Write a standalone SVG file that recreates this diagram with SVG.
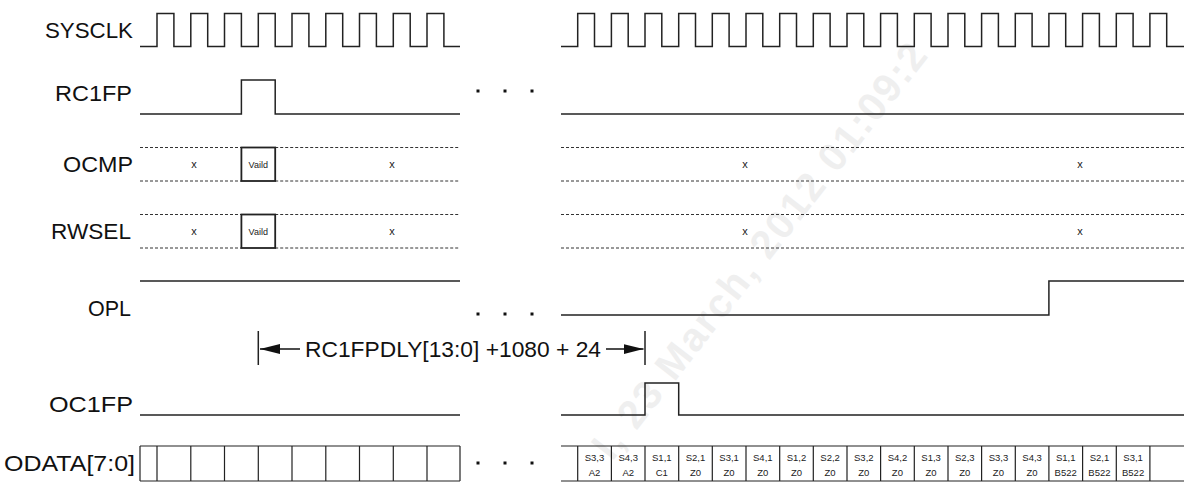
<svg xmlns="http://www.w3.org/2000/svg" width="1192" height="483" viewBox="0 0 1192 483">
<style>
.wm{font-family:"Liberation Sans",Arial,sans-serif;font-size:40px;font-weight:bold;fill:#efefef;letter-spacing:2px}
.lbl{font-family:"Liberation Sans",Arial,sans-serif;font-size:22px;fill:#111;text-anchor:end}
.sig{fill:none;stroke:#222;stroke-width:1.5}
.dash{fill:none;stroke:#333;stroke-width:1;stroke-dasharray:3 2}
.box{fill:none;stroke:#222;stroke-width:1.8}
.x{font-family:"Liberation Sans",Arial,sans-serif;font-size:11px;fill:#222;text-anchor:middle}
.v{font-family:"Liberation Sans",Arial,sans-serif;font-size:9px;fill:#222;text-anchor:middle}
.c{font-family:"Liberation Sans",Arial,sans-serif;font-size:9.5px;fill:#222;text-anchor:middle}
.dot{fill:#111}
.dim{font-family:"Liberation Sans",Arial,sans-serif;font-size:22px;fill:#111}
.cell{fill:none;stroke:#222;stroke-width:1.2}
</style>
<defs>
<marker id="ah" viewBox="0 0 20 10" refX="20" refY="5" markerWidth="20" markerHeight="10" markerUnits="userSpaceOnUse" orient="auto-start-reverse">
<path d="M0,0 L20,5 L0,10 Z" fill="#111"/>
</marker>
</defs>
<rect width="1192" height="483" fill="#fff"/>
<text class="wm" transform="translate(612,462) rotate(-52)">l, 23 March, 2012 01:09:2</text>

<g id="SYSCLK">
<text class="lbl" x="133" y="38" textLength="88" lengthAdjust="spacingAndGlyphs">SYSCLK</text>
<path class="sig" d="M140,46.5 H157 V13.5 H173.9 V46.5 H190.8 V13.5 H207.7 V46.5 H224.5 V13.5 H241.4 V46.5 H258.3 V13.5 H275.2 V46.5 H292 V13.5 H308.9 V46.5 H325.8 V13.5 H342.7 V46.5 H359.5 V13.5 H376.4 V46.5 H393.3 V13.5 H410.2 V46.5 H427 V13.5 H443.9 V46.5 H460"/>
<path class="sig" d="M561,46.5 H577.7 V13.5 H594.5 V46.5 H611.4 V13.5 H628.2 V46.5 H645 V13.5 H661.8 V46.5 H678.7 V13.5 H695.5 V46.5 H712.3 V13.5 H729.1 V46.5 H746 V13.5 H762.8 V46.5 H779.7 V13.5 H796.5 V46.5 H813.3 V13.5 H830.1 V46.5 H847 V13.5 H863.8 V46.5 H880.6 V13.5 H897.4 V46.5 H914.3 V13.5 H931.1 V46.5 H948 V13.5 H964.8 V46.5 H981.6 V13.5 H998.4 V46.5 H1015.3 V13.5 H1032.1 V46.5 H1048.9 V13.5 H1065.7 V46.5 H1082.6 V13.5 H1099.4 V46.5 H1116.3 V13.5 H1133.1 V46.5 H1149.9 V13.5 H1166.7 V46.5 H1184"/>
</g>

<g id="RC1FP">
<text class="lbl" x="132" y="101" textLength="77" lengthAdjust="spacingAndGlyphs">RC1FP</text>
<path class="sig" d="M140,114 H241.4 V80 H275.2 V114 H460"/>
<path class="sig" d="M561,114 H1184"/>
<rect class="dot" x="476.5" y="89.5" width="3" height="3"/>
<rect class="dot" x="503.5" y="89.5" width="3" height="3"/>
<rect class="dot" x="530.5" y="89.5" width="3" height="3"/>
</g>

<g id="OCMP">
<text class="lbl" x="133" y="172" textLength="70" lengthAdjust="spacingAndGlyphs">OCMP</text>
<path class="dash" d="M140,147.5 H241.4 M275.2,147.5 H460 M140,181 H241.4 M275.2,181 H460 M561,147.5 H1184 M561,181 H1184"/>
<rect class="box" x="241.4" y="147.5" width="33.8" height="33.5"/>
<text class="x" x="194" y="168">x</text>
<text class="v" x="258.3" y="167.5">Vaild</text>
<text class="x" x="392" y="168">x</text>
<text class="x" x="745" y="168">x</text>
<text class="x" x="1080" y="168">x</text>
</g>

<g id="RWSEL">
<text class="lbl" x="131" y="239" textLength="80" lengthAdjust="spacingAndGlyphs">RWSEL</text>
<path class="dash" d="M140,214.5 H241.4 M275.2,214.5 H460 M140,248 H241.4 M275.2,248 H460 M561,214.5 H1184 M561,248 H1184"/>
<rect class="box" x="241.4" y="214.5" width="33.8" height="33.5"/>
<text class="x" x="194" y="235">x</text>
<text class="v" x="258.3" y="234.5">Vaild</text>
<text class="x" x="392" y="235">x</text>
<text class="x" x="745" y="235">x</text>
<text class="x" x="1080" y="235">x</text>
</g>

<g id="OPL">
<text class="lbl" x="131" y="316" textLength="43" lengthAdjust="spacingAndGlyphs">OPL</text>
<path class="sig" d="M140,281 H460"/>
<path class="sig" d="M561,315 H1048.9 V281 H1184"/>
<rect class="dot" x="476.5" y="312.5" width="3" height="3"/>
<rect class="dot" x="503.5" y="312.5" width="3" height="3"/>
<rect class="dot" x="530.5" y="312.5" width="3" height="3"/>
</g>

<g id="connectors">
<path class="sig" d="M258.3,331 V365 M645,331 V365"/>
<path class="sig" d="M300,349 H260" marker-end="url(#ah)" style="stroke:#111"/>
<path class="sig" d="M606,349 H643.5" marker-end="url(#ah)" style="stroke:#111"/>
<text class="dim" x="305" y="357" textLength="296" lengthAdjust="spacingAndGlyphs">RC1FPDLY[13:0] +1080 + 24</text>
</g>

<g id="OC1FP">
<text class="lbl" x="133" y="412" textLength="84" lengthAdjust="spacingAndGlyphs">OC1FP</text>
<path class="sig" d="M140,415 H460"/>
<path class="sig" d="M561,415 H645 V383 H678.7 V415 H1184"/>
</g>

<g id="ODATA">
<text class="lbl" x="135" y="471" textLength="131" lengthAdjust="spacingAndGlyphs">ODATA[7:0]</text>
<path class="cell" d="M140,446 H460 M140,481 H460 M140,446 V481 M157,446 V481 M190.8,446 V481 M224.5,446 V481 M258.3,446 V481 M292,446 V481 M325.8,446 V481 M359.5,446 V481 M393.3,446 V481 M427,446 V481 M460,446 V481"/>
<rect class="dot" x="476.5" y="461.5" width="3" height="3"/>
<rect class="dot" x="503.5" y="461.5" width="3" height="3"/>
<rect class="dot" x="530.5" y="461.5" width="3" height="3"/>
<path class="cell" d="M561,446 H1184 M561,481 H1184 M577.7,446 V481 M611.4,446 V481 M645,446 V481 M678.7,446 V481 M712.3,446 V481 M746,446 V481 M779.7,446 V481 M813.3,446 V481 M847,446 V481 M880.6,446 V481 M914.3,446 V481 M948,446 V481 M981.6,446 V481 M1015.3,446 V481 M1048.9,446 V481 M1082.6,446 V481 M1116.3,446 V481 M1149.9,446 V481"/>
<g class="c">
<text x="594.5" y="461">S3,3</text><text x="594.5" y="476">A2</text>
<text x="628.2" y="461">S4,3</text><text x="628.2" y="476">A2</text>
<text x="661.8" y="461">S1,1</text><text x="661.8" y="476">C1</text>
<text x="695.5" y="461">S2,1</text><text x="695.5" y="476">Z0</text>
<text x="729.1" y="461">S3,1</text><text x="729.1" y="476">Z0</text>
<text x="762.8" y="461">S4,1</text><text x="762.8" y="476">Z0</text>
<text x="796.5" y="461">S1,2</text><text x="796.5" y="476">Z0</text>
<text x="830.1" y="461">S2,2</text><text x="830.1" y="476">Z0</text>
<text x="863.8" y="461">S3,2</text><text x="863.8" y="476">Z0</text>
<text x="897.4" y="461">S4,2</text><text x="897.4" y="476">Z0</text>
<text x="931.1" y="461">S1,3</text><text x="931.1" y="476">Z0</text>
<text x="964.8" y="461">S2,3</text><text x="964.8" y="476">Z0</text>
<text x="998.4" y="461">S3,3</text><text x="998.4" y="476">Z0</text>
<text x="1032.1" y="461">S4,3</text><text x="1032.1" y="476">Z0</text>
<text x="1065.7" y="461">S1,1</text><text x="1065.7" y="476">B522</text>
<text x="1099.4" y="461">S2,1</text><text x="1099.4" y="476">B522</text>
<text x="1133.1" y="461">S3,1</text><text x="1133.1" y="476">B522</text>
</g>
</g>
</svg>
